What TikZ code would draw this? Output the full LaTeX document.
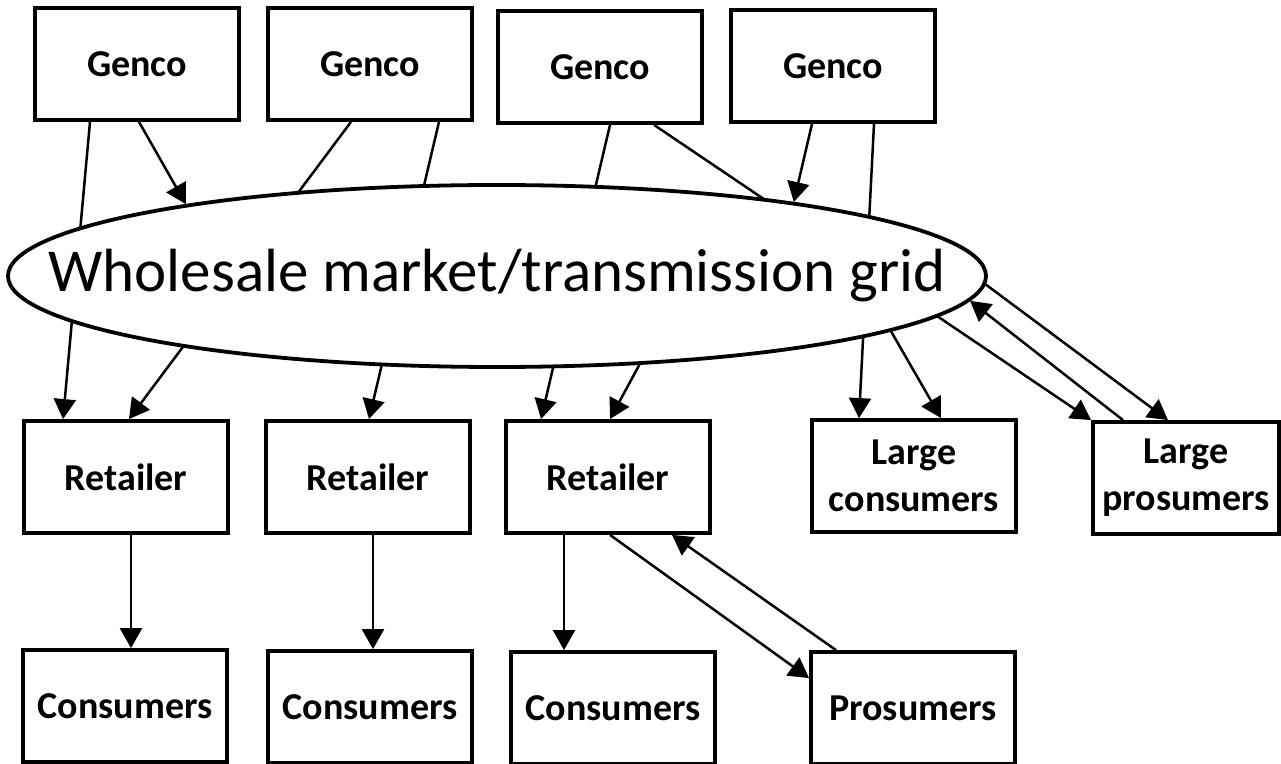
\documentclass[tikz,border=0pt]{standalone}
\usepackage{fontspec}
\setmainfont{Carlito}
\usetikzlibrary{arrows.meta,shapes.geometric}
\pgfdeclarelayer{bg}
\pgfsetlayers{bg,main}
\begin{document}
\begin{tikzpicture}[x=0.5pt,y=-0.5pt,
  box/.style={draw, line width=1.9pt, fill=white, minimum width=102pt,
    minimum height=56pt, inner sep=1pt, align=center,
    font=\bfseries\fontsize{19}{23.5}\selectfont},
  flow/.style={line width=1.25pt, -{Triangle[length=10pt,width=11pt]}}]
\useasboundingbox (0,0) rectangle (1281,764);

% generating companies
\node[box] (g1) at (137,64) {Genco};
\node[box] (g2) at (370,64) {Genco};
\node[box] (g3) at (600,67) {Genco};
\node[box] (g4) at (833,66) {Genco};

% wholesale market
\node[ellipse, draw, line width=1.9pt, fill=white, minimum width=489pt,
  minimum height=91pt, inner sep=0pt, font=\fontsize{30.5}{36}\selectfont]
  (wm) at (497,276) {\makebox[0pt]{Wholesale market/transmission grid}};

% retail level
\node[box] (r1) at (126,477) {Retailer};
\node[box] (r2) at (368,477) {Retailer};
\node[box] (r3) at (608,477) {Retailer};
\node[box] (lc) at (914,476) {Large\\consumers};
\node[box, minimum width=93pt] (lp) at (1186,478) {Large\\prosumers};

% end users
\node[box] (c1) at (125,706) {Consumers};
\node[box] (c2) at (370,707) {Consumers};
\node[box] (c3) at (613,708) {Consumers};
\node[box] (p)  at (913,708) {Prosumers};

% white page, then contracts passing through the grid (behind the ellipse)
\begin{pgfonlayer}{bg}
\fill[white] (0,0) rectangle (1281,764);
\draw[flow] ([xshift=-23.5pt]g1.south) -- ([xshift=-31.5pt]r1.north);
\draw[flow] ([xshift=-9.5pt]g2.south) -- ([xshift=1.5pt]r1.north);
\draw[flow] ([xshift=34.5pt]g2.south) -- ([xshift=0.5pt]r2.north);
\draw[flow] ([xshift=5pt]g3.south) -- ([xshift=-33.5pt]r3.north);
\draw[flow] ([xshift=27pt]g3.south) -- (lp.north west);
\draw[flow] ([xshift=20.5pt]g4.south) -- ([xshift=-27.5pt]lc.north);
\end{pgfonlayer}

% flows into and out of the market
\draw[flow] ([xshift=1pt]g1.south) -- (wm.167);
\draw[flow] ([xshift=-10.5pt]g4.south) -- (wm.14);
\draw[flow] (wm.-32) -- ([xshift=1pt]r3.north);
\draw[flow] (wm.-8) -- ([xshift=13.5pt]lc.north);
\draw[flow] (wm.-1) -- ([xshift=-9pt]lp.north);
\draw[flow] ([xshift=-31.5pt]lp.north) -- (wm.-3);

% retail to end users
\draw[flow] ([xshift=2.5pt]r1.south) -- ([xshift=2.5pt]r1.south |- c1.north);
\draw[flow] ([xshift=2.5pt]r2.south) -- ([xshift=2.5pt]r2.south |- c2.north);
\draw[flow] ([xshift=-22pt]r3.south) -- ([xshift=-22pt]r3.south |- c3.north);
\draw[flow] ([xshift=1pt]r3.south) -- ([yshift=-14pt]p.north west);
\draw[flow] ([xshift=-38.5pt]p.north) -- ([xshift=32pt]r3.south);
\end{tikzpicture}
\end{document}
